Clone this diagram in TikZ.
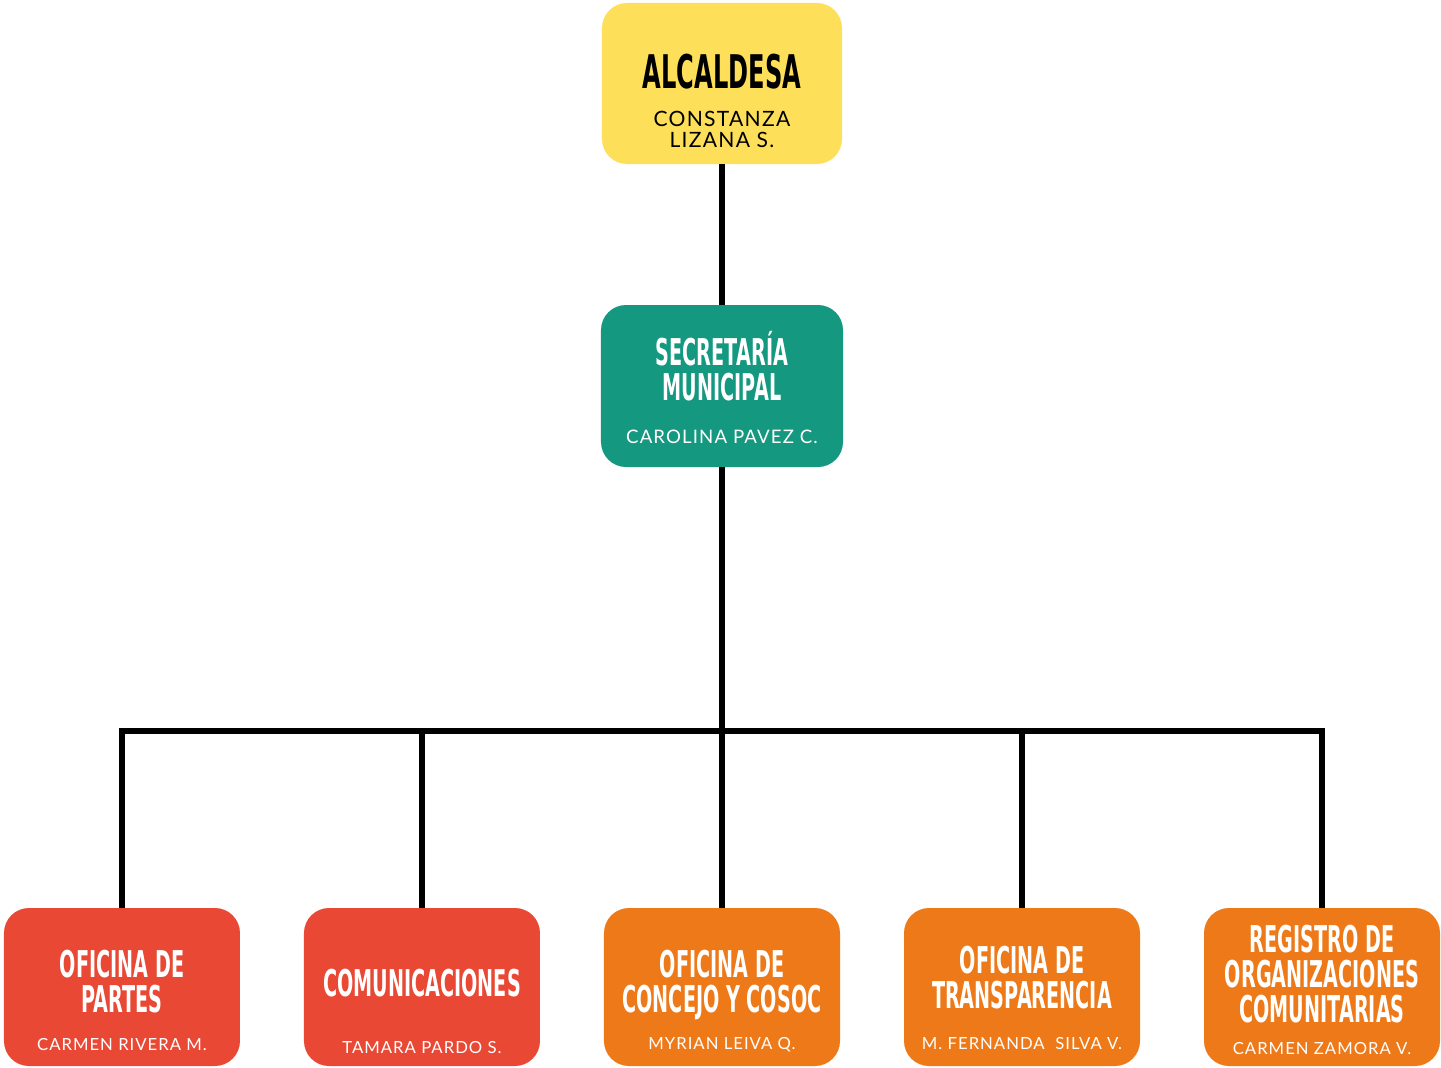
\documentclass[tikz,border=0pt]{standalone}
\usepackage{fontspec}
\newfontfamily\titulofont{DejaVu Sans}[FakeStretch=0.52]
\newfontfamily\nombrefont{Lato}[LetterSpace=6]

\definecolor{amarillo}{HTML}{FEDF5A}
\definecolor{verde}{HTML}{14987F}
\definecolor{rojo}{HTML}{E84834}
\definecolor{naranja}{HTML}{EE7918}

\tikzset{
    caja/.style={rounded corners=5mm, minimum width=47.2mm, minimum height=31.6mm,
        inner sep=0pt, align=center, text=white,
        font=\titulofont\bfseries\fontsize{21}{19.8}\selectfont},
    nombre/.style={inner sep=0pt, text=white, font=\nombrefont\fontsize{9.5}{11}\selectfont},
    baja/.style={text height=#1, text depth=0pt},
}

\begin{document}
\begin{tikzpicture}
[
    x=1mm, y=1mm,
    level 1/.style={level distance=60.5mm},
    level 2/.style={level distance=120.2mm, sibling distance=60mm,
        edge from parent path={(\tikzparentnode.south) -- ++(0,-52.8mm) -| (\tikzchildnode.north)}},
    edge from parent/.style={draw, line width=1.2mm},
]
\useasboundingbox (-144.4,16.7) rectangle (143.8,-196.7);
\node[caja, fill=amarillo, text=black, minimum width=48mm, minimum height=32.2mm, baja=2.2mm,
      font=\titulofont\bfseries\fontsize{26.4}{26}\selectfont,
      label={[nombre, text=black, align=center, yshift=-9.2mm,
              font=\nombrefont\fontsize{12}{12}\selectfont]center:CONSTANZA\\LIZANA S.}] (alcaldesa) {ALCALDESA}
    child {node[caja, fill=verde, minimum width=48.4mm, minimum height=32.4mm, baja=5.6mm,
                label={[nombre, yshift=-10.2mm, font=\nombrefont\fontsize{10.6}{12}\selectfont]center:CAROLINA PAVEZ C.}] (secretaria) {SECRETARÍA\\MUNICIPAL}
    child {node[caja, fill=rojo, baja=10mm,
                label={[nombre, yshift=-11.6mm]center:CARMEN RIVERA M.}] (partes) {OFICINA DE\\PARTES}}
    child {node[caja, fill=rojo, baja=3.6mm,
                label={[nombre, yshift=-12.1mm]center:TAMARA PARDO S.}] (comunicaciones) {COMUNICACIONES}}
    child {node[caja, fill=naranja, baja=10mm,
                label={[nombre, yshift=-11.6mm]center:MYRIAN LEIVA Q.}] (concejo) {OFICINA DE\\CONCEJO Y COSOC}}
    child {node[caja, fill=naranja, baja=8.4mm,
                label={[nombre, yshift=-11.4mm]center:M. FERNANDA\ \ SILVA V.}] (transparencia) {OFICINA DE\\TRANSPARENCIA}}
    child {node[caja, fill=naranja, baja=14mm,
                label={[nombre, yshift=-12.4mm]center:CARMEN ZAMORA V.}] (registro) {REGISTRO DE\\ORGANIZACIONES\\COMUNITARIAS}}
};
\end{tikzpicture}
\end{document}
